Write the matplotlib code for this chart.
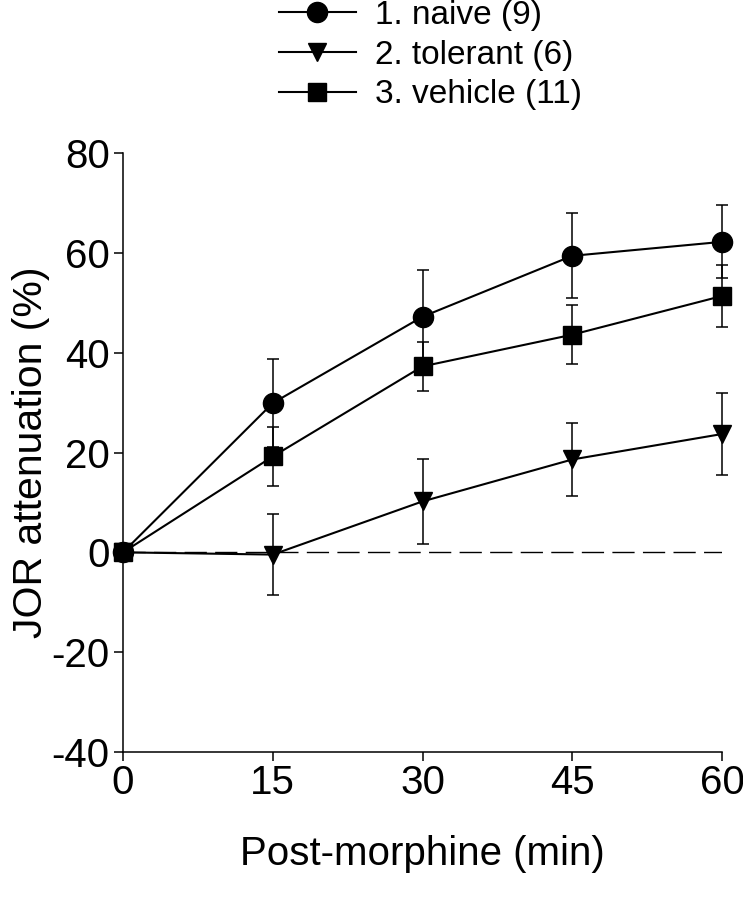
import matplotlib
matplotlib.use('Agg')
import matplotlib.pyplot as plt

plt.rcParams['font.family'] = ['Liberation Sans', 'DejaVu Sans']
plt.rcParams['axes.unicode_minus'] = False

time = [0, 15, 30, 45, 60]
naive = [0, 29.9, 47.2, 59.4, 62.2]
naive_err = [0, 8.8, 9.3, 8.5, 7.3]
tolerant = [0, -0.45, 10.2, 18.6, 23.7]
tolerant_err = [0, 8.1, 8.5, 7.3, 8.2]
vehicle = [0, 19.2, 37.25, 43.6, 51.35]
vehicle_err = [0, 5.9, 4.85, 5.9, 6.15]
labels = ['1. naive (9)', '2. tolerant (6)', '3. vehicle (11)']

fig = plt.figure(figsize=(7.43, 8.99), dpi=100)
ax = fig.add_axes([123/743, 1 - 752/899, 599/743, 599/899])

# zero reference line
zl, = ax.plot([0, 60], [0, 0], color='black', lw=1.0, zorder=1)
zl.set_dashes([16, 6])

handles = []
for y, err, mk, ms, lab in [(naive, naive_err, 'o', 14.5, labels[0]),
                            (tolerant, tolerant_err, 'v', 13.5, labels[1]),
                            (vehicle, vehicle_err, 's', 13, labels[2])]:
    ax.errorbar(time, y, yerr=err, fmt='none', ecolor='black', elinewidth=1.1,
                capsize=4.3, capthick=1.1, zorder=2, clip_on=False)
    h, = ax.plot(time, y, color='black', lw=1.5, marker=mk, markersize=ms,
                 markerfacecolor='black', markeredgecolor='black', zorder=3,
                 clip_on=False, label=lab)
    handles.append(h)

ax.set_xlim(0, 60)
ax.set_ylim(-40, 80)
ax.set_xticks(time)
ax.set_yticks([-40, -20, 0, 20, 40, 60, 80])
for s in ['top', 'right']:
    ax.spines[s].set_visible(False)
for s in ['left', 'bottom']:
    ax.spines[s].set_linewidth(1.1)
ax.tick_params(direction='out', length=6.5, width=1.1, labelsize=29)
ax.tick_params(axis='x', pad=2)
ax.tick_params(axis='y', pad=3)

ax.set_xlabel('Post-morphine (min)', fontsize=29)
ax.xaxis.set_label_coords(0.5, -0.139)
ax.set_ylabel('JOR attenuation (%)', fontsize=29.5)
ax.yaxis.set_label_coords(-0.122, 0.5)

fig.legend(handles=handles, labels=labels, loc='upper left',
           bbox_to_anchor=(279/743, 1 - 0/899), frameon=False, fontsize=24,
           handlelength=2.3, handletextpad=0.57, labelspacing=0.26,
           borderpad=0, borderaxespad=0, numpoints=1)

fig.savefig('out.png', dpi=100)
